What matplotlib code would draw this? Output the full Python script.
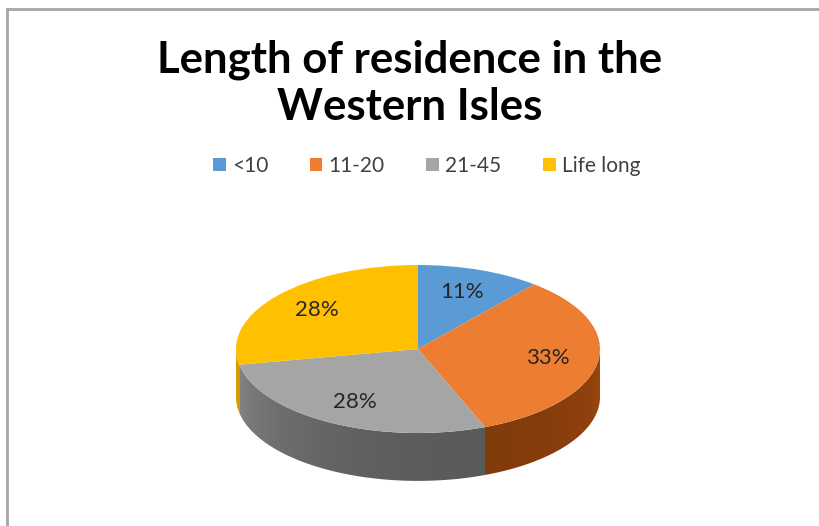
import numpy as np
import matplotlib.pyplot as plt
from matplotlib.colors import to_rgb, rgb_to_hsv, hsv_to_rgb
from matplotlib.patches import Patch, Polygon
from matplotlib.lines import Line2D

plt.rcParams['font.family'] = ['Lato', 'DejaVu Sans']

categories = ["<10", "11-20", "21-45", "Life long"]
shares = [11, 33, 28, 28]
colors = ["#5b9bd5", "#ed7d31", "#a5a5a5", "#ffc000"]

W, H = 819, 526
fig = plt.figure(figsize=(W / 100, H / 100), dpi=100)

# pie centre and radii in pixels, thickness of the disc
cx, cy, rx, ry = 418, 349, 182, 84
depth = 0.57

ax = fig.add_axes([0, 0, 1, 1])
wedges, texts, autotexts = ax.pie(shares, colors=colors, startangle=90, counterclock=False,
                                  autopct='%1.0f%%', pctdistance=0.72,
                                  wedgeprops=dict(linewidth=0),
                                  textprops=dict(fontsize=16, color="#262626"))
ax.set_aspect('auto')
ax.axis('off')
for w in wedges:
    w.set_zorder(3)
for t in autotexts:
    t.set_zorder(5)

# shading of the side wall, darkest a bit right of the front
def shade(t):
    return 0.55 + 0.30 * ((t - 290) / 110) ** 2

xs_img = np.linspace(-1, 1, 600)
ang_img = 360 - np.degrees(np.arccos(xs_img))

def side_colors(c):
    hsv = rgb_to_hsv(np.array(to_rgb(c)))
    out = np.tile(hsv, (len(ang_img), 1))
    out[:, 1] = min(1.0, hsv[1] * 1.15)
    out[:, 2] = hsv[2] * shade(ang_img)
    return hsv_to_rgb(out)

# side wall of the disc: only the front half (180..360 deg) is visible
for w, c in zip(wedges, colors):
    a1, a2 = w.theta1 % 360, w.theta2 % 360
    if a2 <= a1:
        a2 += 360
    for off in (0, 360):
        lo, hi = max(a1 - off, 180), min(a2 - off, 360)
        if hi <= lo:
            continue
        tt = np.radians(np.linspace(lo, hi, 100))
        top = np.column_stack([np.cos(tt), np.sin(tt)])
        bot = np.column_stack([np.cos(tt[::-1]), np.sin(tt[::-1]) - depth])
        side = Polygon(np.vstack([top, bot]), closed=True, facecolor='none',
                       edgecolor='none', transform=ax.transData)
        ax.add_patch(side)
        img = ax.imshow(side_colors(c)[None, :, :], extent=(-1, 1, -1 - depth, 0),
                        aspect='auto', interpolation='bilinear', zorder=2)
        img.set_clip_path(side)

ax.set_xlim(-cx / rx, (W - cx) / rx)
ax.set_ylim(-(H - cy) / ry, cy / ry)

fig.text(0.5, 1 - 72 / H, "Length of residence in the", ha='center', va='baseline',
         fontsize=31.5, fontweight='bold', color='black')
fig.text(0.5, 1 - 120 / H, "Western Isles", ha='center', va='baseline',
         fontsize=31.5, fontweight='bold', color='black')

handles = [Patch(facecolor=c, edgecolor='none') for c in colors]
fig.legend(handles, categories, loc='center', bbox_to_anchor=(0.521, 1 - 166 / H), ncol=4,
           frameon=False, fontsize=15, handlelength=0.6, handleheight=0.6,
           handletextpad=0.3, columnspacing=2.0, labelcolor='#404040')

# chart area border (top and left edges)
fig.add_artist(Line2D([7 / W, 1], [1 - 9 / H, 1 - 9 / H], color='#a6a6a6', lw=2))
fig.add_artist(Line2D([7 / W, 7 / W], [0, 1 - 9 / H], color='#a6a6a6', lw=2))

fig.savefig("out.png", dpi=100, facecolor='white')
